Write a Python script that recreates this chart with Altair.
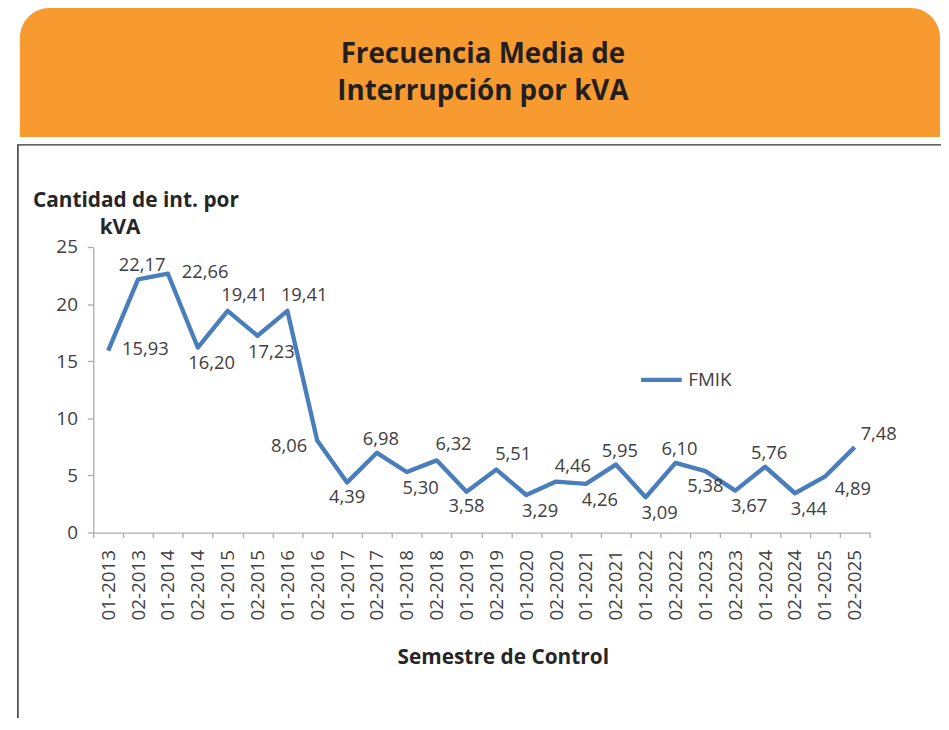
import altair as alt
import pandas as pd

# ---------------- data ----------------
periods = ["01-2013", "02-2013", "01-2014", "02-2014", "01-2015", "02-2015",
           "01-2016", "02-2016", "01-2017", "02-2017", "01-2018", "02-2018",
           "01-2019", "02-2019", "01-2020", "02-2020", "01-2021", "02-2021",
           "01-2022", "02-2022", "01-2023", "02-2023", "01-2024", "02-2024",
           "01-2025", "02-2025"]
fmik = [15.93, 22.17, 22.66, 16.20, 19.41, 17.23,
        19.41, 8.06, 4.39, 6.98, 5.30, 6.32,
        3.58, 5.51, 3.29, 4.46, 4.26, 5.95,
        3.09, 6.10, 5.38, 3.67, 5.76, 3.44,
        4.89, 7.48]
# where each data label sits relative to its point
label_side = ["right", "above", "right", "below-right", "above-right", "below-right",
              "above-right", "left", "below", "above", "below-right", "above-right",
              "below", "above-right", "below-right", "above-right", "below-right", "above",
              "below-right", "above", "below", "below-right", "above", "below-right",
              "lower-right", "upper-right"]
y_ticks = [0, 5, 10, 15, 20, 25]
series_name = "FMIK"
title_lines = ["Frecuencia Media de", "Interrupción por kVA"]
y_title_lines = ["Cantidad de int. por", "kVA"]
x_title = "Semestre de Control"

# ---------------- style ----------------
FONT = "Open Sans"
ORANGE = "#F79B31"
BLUE = "#4A7EBB"
TXT = "#404040"
DARK = "#262626"
AXIS = "#ABABAB"
W, H = 783, 288

side_style = {
    "above": dict(dx=4, dy=-14, align="center"),
    "above-right": dict(dx=17, dy=-16, align="center"),
    "below": dict(dx=0, dy=15, align="center"),
    "below-right": dict(dx=14, dy=16, align="center"),
    "right": dict(dx=14, dy=-2, align="left"),
    "left": dict(dx=-10, dy=6, align="right"),
    "upper-right": dict(dx=6, dy=-13, align="left"),
    "lower-right": dict(dx=10, dy=12, align="left"),
}

df = pd.DataFrame({"periodo": periods, "valor": fmik, "lado": label_side,
                   "serie": [series_name] * len(periods)})
df["etiqueta"] = df["valor"].map(lambda v: f"{v:.2f}".replace(".", ","))

x_enc = alt.X(
    "periodo:N", sort=periods, bandPosition=0.5,
    scale=alt.Scale(type="band", paddingInner=0, paddingOuter=0),
    axis=alt.Axis(title=x_title, labelAngle=270, labelAlign="right",
                  labelBaseline="middle", labelFontSize=19, labelColor=TXT,
                  labelPadding=12, labelOverlap=False, tickSize=5,
                  tickColor=AXIS, domainColor=AXIS, tickWidth=1.3, domainWidth=1.3,
                  tickBand="extent", grid=False, zindex=1,
                  titleFontSize=21, titleFontWeight="bold", titleColor=DARK,
                  titleX=413, titleY=126, titleBaseline="middle"),
)
y_enc = alt.Y(
    "valor:Q", scale=alt.Scale(domain=[0, 25], nice=False, zero=True),
    axis=alt.Axis(values=y_ticks, title=None, labelFontSize=19, labelColor=TXT,
                  tickSize=6, labelPadding=10, grid=False, tickColor=AXIS,
                  domainColor=AXIS, tickWidth=1.3, domainWidth=1.3, zindex=1),
)

base = alt.Chart(df).encode(x=x_enc, y=y_enc)

line = base.mark_line(strokeWidth=4.4, strokeJoin="round").encode(
    color=alt.Color("serie:N", scale=alt.Scale(range=[BLUE]),
                    legend=alt.Legend(title=None, orient="none", legendX=550,
                                      legendY=111, symbolType="stroke",
                                      symbolSize=1681, symbolStrokeWidth=4.4,
                                      labelFontSize=19, labelColor=TXT,
                                      padding=0, labelOffset=4))
)

labels = []
for side, st in side_style.items():
    labels.append(
        base.mark_text(baseline="middle", fontSize=18.5, color=TXT, **st)
        .encode(text="etiqueta:N")
        .transform_filter(alt.datum.lado == side)
    )

one = pd.DataFrame({"d": [0]})
frame = alt.Chart(one).mark_rect(fillOpacity=0, stroke="#333333", strokeWidth=1.5).encode(
    x=alt.value(-76), x2=alt.value(900), y=alt.value(-103), y2=alt.value(700))
banner = alt.Chart(one).mark_rect(color=ORANGE, cornerRadiusTopLeft=30,
                                  cornerRadiusTopRight=30).encode(
    x=alt.value(-74), x2=alt.value(854), y=alt.value(-241), y2=alt.value(-111))
t1 = alt.Chart(one).mark_text(text=title_lines[0], fontSize=28, fontWeight="bold",
                              color="#231F20", align="center", baseline="middle").encode(
    x=alt.value(393), y=alt.value(-194))
t2 = alt.Chart(one).mark_text(text=title_lines[1], fontSize=28, fontWeight="bold",
                              color="#231F20", align="center", baseline="middle").encode(
    x=alt.value(393), y=alt.value(-156))
yt1 = alt.Chart(one).mark_text(text=y_title_lines[0], fontSize=21, fontWeight="bold",
                               color=DARK, align="center", baseline="middle").encode(
    x=alt.value(43), y=alt.value(-46))
yt2 = alt.Chart(one).mark_text(text=y_title_lines[1], fontSize=21, fontWeight="bold",
                               color=DARK, align="center", baseline="middle").encode(
    x=alt.value(27), y=alt.value(-19))

chart = alt.layer(frame, banner, t1, t2, yt1, yt2, line, *labels).properties(
    width=W, height=H,
    autosize=alt.AutoSizeParams(type="none"),
    padding={"left": 86, "top": 238, "right": 72, "bottom": 184},
    background="white",
).configure(font=FONT).configure_view(stroke=None)

chart.save("out.html", embed_options={"renderer": "svg", "actions": False})
